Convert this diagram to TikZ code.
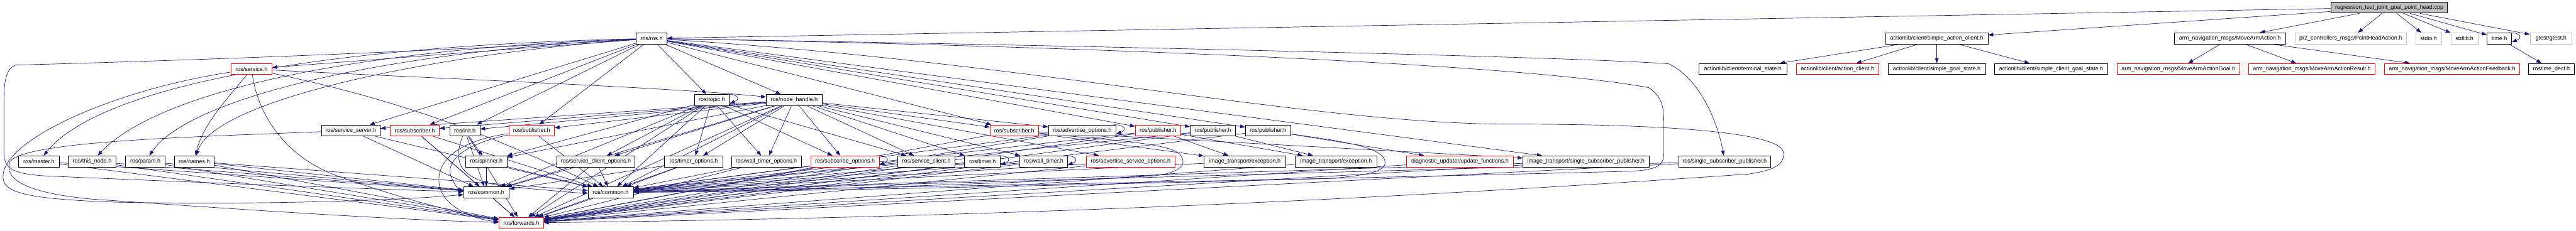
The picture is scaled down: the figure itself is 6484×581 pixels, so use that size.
\documentclass[tikz,border=0pt]{standalone}
\usepackage{fontspec}
\setmainfont{Liberation Sans}
\usetikzlibrary{arrows.meta}
\definecolor{edgec}{RGB}{25,25,112}
\definecolor{gray75}{RGB}{191,191,191}
\definecolor{dred}{RGB}{255,0,0}
\pgfdeclarelayer{bg}
\pgfsetlayers{bg,main}
\tikzset{
 nb/.style={draw=black, fill=white, line width=0.95pt, inner sep=0pt, minimum height=21pt, font=\fontsize{10.7}{12}\selectfont},
 nr/.style={nb, draw=dred},
 ng/.style={nb, draw=gray75},
 bw/.style={minimum width=#1*0.75pt},
 edg/.style={draw=edgec, line width=0.8pt, -{Triangle[length=9.5pt,width=7pt]}},
}
\newcommand\selfloop[1]{\draw[edg] ([xshift=-6pt]#1.north east) .. controls +(24pt,0pt) and +(20pt,8pt) .. ([yshift=4pt]#1.south east);}
\begin{document}
\begin{tikzpicture}[x=0.75pt,y=-0.75pt]
\useasboundingbox (0,0) rectangle (6484,581);
% row 0
\node[nb, fill=gray75, bw=293] (root) at (6014,19) {regression\_test\_joint\_goal\_point\_head.cpp};
% row 1
\node[nb,bw=78] (rosh) at (1640,97) {ros/ros.h};
\node[nb,bw=258] (sac) at (4875,97) {actionlib/client/simple\_action\_client.h};
\node[nb,bw=280] (maa) at (5613,97) {arm\_navigation\_msgs/MoveArmAction.h};
\node[ng,bw=280] (pha) at (5917,97) {pr2\_controllers\_msgs/PointHeadAction.h};
\node[ng,bw=65] (stdio) at (6113,97) {stdio.h};
\node[ng,bw=68] (stdlib) at (6203,97) {stdlib.h};
\node[nb,bw=62] (timeh) at (6291,97) {time.h};
\node[ng,bw=105] (gtest) at (6421,97) {gtest/gtest.h};
% row 2
\node[nr,bw=103] (service) at (633,174) {ros/service.h};
\node[nb,bw=221] (term) at (4387,174) {actionlib/client/terminal\_state.h};
\node[nr,bw=208] (acl) at (4625,174) {actionlib/client/action\_client.h};
\node[nb,bw=245] (sgs) at (4875,174) {actionlib/client/simple\_goal\_state.h};
\node[nb,bw=286] (scgs) at (5163,174) {actionlib/client/simple\_client\_goal\_state.h};
\node[nr,bw=308] (goal) at (5483,174) {arm\_navigation\_msgs/MoveArmActionGoal.h};
\node[nr,bw=318] (result) at (5819,174) {arm\_navigation\_msgs/MoveArmActionResult.h};
\node[nr,bw=341] (feedback) at (6172,174) {arm\_navigation\_msgs/MoveArmActionFeedback.h};
\node[nb,bw=116] (rtd) at (6422,174) {rostime\_decl.h};
% row 3
\node[nb,bw=88] (topic) at (1792,252) {ros/topic.h};
\node[nb,bw=140] (nh) at (1999,252) {ros/node\_handle.h};
% row 4
\node[nb,bw=148] (ssrv) at (883,329) {ros/service\_server.h};
\node[nr,bw=123] (sub1) at (1044,329) {ros/subscriber.h};
\node[nb,bw=76] (init) at (1170,329) {ros/init.h};
\node[nr,bw=115] (pub1) at (1338,329) {ros/publisher.h};
\node[nr,bw=122] (sub2) at (2553,329) {ros/subscriber.h};
\node[nb,bw=170] (advo) at (2724,329) {ros/advertise\_options.h};
\node[nr,bw=115] (pub2) at (2915,329) {ros/publisher.h};
\node[nb,bw=114] (pub3) at (3053,329) {ros/publisher.h};
\node[nb,bw=114] (pub4) at (3192,329) {ros/publisher.h};
% row 5
\node[nb,bw=103] (master) at (98,407) {ros/master.h};
\node[nb,bw=120] (thisnode) at (232,407) {ros/this\_node.h};
\node[nb,bw=100] (param) at (366,407) {ros/param.h};
\node[nb,bw=101] (names) at (489,407) {ros/names.h};
\node[nb,bw=104] (spinner) at (1224,407) {ros/spinner.h};
\node[nb,bw=197] (sco) at (1500,407) {ros/service\_client\_options.h};
\node[nb,bw=146] (tmo) at (1746,407) {ros/timer\_options.h};
\node[nb,bw=176] (wtmo) at (1929,407) {ros/wall\_timer\_options.h};
\node[nr,bw=172] (subo) at (2127,407) {ros/subscribe\_options.h};
\node[nb,bw=144] (scl) at (2332,407) {ros/service\_client.h};
\node[nb,bw=90] (timer) at (2473,407) {ros/timer.h};
\node[nb,bw=120] (wtimer) at (2627,407) {ros/wall\_timer.h};
\node[nr,bw=222] (aso) at (2846,407) {ros/advertise\_service\_options.h};
\node[nb,bw=205] (ite1) at (3133,407) {image\_transport/exception.h};
\node[nb,bw=205] (ite2) at (3363,407) {image\_transport/exception.h};
\node[nr,bw=269] (diag) at (3675,407) {diagnostic\_updater/update\_functions.h};
\node[nb,bw=318] (itssp) at (3992,407) {image\_transport/single\_subscriber\_publisher.h};
\node[nb,bw=232] (rssp) at (4341,407) {ros/single\_subscriber\_publisher.h};
% row 6, 7
\node[nb,bw=114] (com1) at (1224,485) {ros/common.h};
\node[nb,bw=114] (com2) at (1537,485) {ros/common.h};
\node[nr,bw=112] (fwd) at (1312,562) {ros/forwards.h};

\begin{pgfonlayer}{bg}
\foreach \a/\b in {root/rosh, root/sac, root/maa, root/pha, root/stdio, root/stdlib, root/timeh, root/gtest,
 timeh/rtd, sac/term, sac/acl, sac/sgs, sac/scgs, maa/goal, maa/result, maa/feedback,
 rosh/service, rosh/ssrv, rosh/sub1, rosh/init, rosh/pub1, rosh/topic, rosh/nh, rosh/sub2, rosh/pub2, rosh/pub3, rosh/pub4, rosh/itssp,
 topic/tmo, topic/wtmo, topic/subo, topic/sco, topic/spinner, topic/com1, topic/com2, topic/fwd, topic/scl,
 nh/tmo, nh/wtmo, nh/subo, nh/sco, nh/spinner, nh/ssrv, nh/sub1, nh/init, nh/pub1, nh/scl, nh/timer, nh/wtimer, nh/aso, nh/sub2, nh/advo, nh/com1, nh/com2, nh/fwd,
 master/com1, master/fwd, thisnode/com1, thisnode/fwd, param/com1, param/fwd, names/com1, names/fwd, names/com2,
 ssrv/com1, ssrv/com2, sub1/com1, sub1/fwd, sub1/com2, init/spinner, init/com1, init/fwd, pub1/com2,
 spinner/com1, spinner/com2, sco/com1, sco/com2, sco/fwd, tmo/com1, tmo/com2, tmo/fwd, wtmo/com2, wtmo/fwd,
 subo/com2, subo/fwd, scl/com2, scl/fwd, timer/com2, timer/fwd, wtimer/com2, wtimer/fwd, aso/com2, aso/fwd,
 sub2/fwd, advo/com2, advo/fwd, pub2/com2, pub2/fwd, pub3/com2, pub3/fwd, pub4/fwd,
 pub2/ite1, pub2/ite2, sub2/ite1, sub2/itssp, pub3/ite2, pub4/diag, ite1/com2, ite2/fwd, diag/fwd,
 itssp/com2, itssp/fwd, rssp/com2, rssp/fwd, com1/fwd, com2/fwd}
 {\draw[edg] (\a) -- (\b);}
% curved routes on the left
\draw[edg] (rosh) .. controls (800,116) and (250,218) .. (master);
\draw[edg] (rosh) .. controls (900,122) and (400,229) .. (thisnode);
\draw[edg] (rosh) .. controls (1000,128) and (480,240) .. (param);
\draw[edg] (rosh) .. controls (1100,135) and (540,250) .. (names);
\draw[edg] (rosh) .. controls (1000,135) and (350,156) .. (40,164) .. controls (15,171) and (10,208) .. (10,250) -- (10,387) .. controls (10,429) and (40,439) .. (120,444) .. controls (500,460) and (900,476) .. (com1);
\draw[edg] (service) .. controls (580,240) and (510,313) .. (names);
\draw[edg] (service) .. controls (1100,198) and (1700,221) .. (nh);
\draw[edg] (service) .. controls (1100,271) and (1350,397) .. (com2);
\draw[edg] (service) .. controls (650,292) and (720,397) .. (850,444) .. controls (1000,497) and (1150,539) .. (fwd);
\draw[edg] (service) .. controls (300,224) and (20,345) .. (8,439) .. controls (3,481) and (40,502) .. (300,510) .. controls (700,518) and (1050,502) .. (com1);
\draw[edg] (ssrv) .. controls (500,345) and (60,355) .. (25,408) .. controls (10,450) and (60,486) .. (230,502) .. controls (600,528) and (1000,555) .. (fwd);
\draw[edg] (pub1) .. controls (1180,360) and (1120,402) .. (1135,444) .. controls (1145,471) and (1160,481) .. (com1);
\draw[edg] (pub1) .. controls (1150,355) and (1100,408) .. (1105,460) .. controls (1110,523) and (1200,555) .. (fwd);
\draw[edg] (init) .. controls (1140,408) and (1150,460) .. (1300,473) .. controls (1400,481) and (1450,487) .. (com2);
% curved routes on the right
\draw[edg] (rosh) .. controls (2800,116) and (4000,145) .. (4200,161) .. controls (4280,198) and (4325,313) .. (rssp);
\draw[edg] (rosh) .. controls (2600,114) and (3800,156) .. (4150,221) .. controls (4185,245) and (4188,271) .. (4188,313) -- (4188,387) .. controls (4188,418) and (4170,429) .. (4100,432) .. controls (3000,460) and (2000,476) .. (com2);
\draw[edg] (rosh) .. controls (2600,156) and (3300,313) .. (3800,313) .. controls (4200,313) and (4485,334) .. (4489,385) .. controls (4492,413) and (4470,429) .. (4400,439) .. controls (3500,502) and (2500,549) .. (fwd);
\draw[edg] (sub2) .. controls (2800,355) and (2950,360) .. (2972,392) .. controls (2990,418) and (2965,437) .. (2900,444) .. controls (2500,465) and (1900,483) .. (com2);
\draw[edg] (pub4) .. controls (3350,353) and (3470,366) .. (3485,402) .. controls (3495,431) and (3450,441) .. (3350,450) .. controls (2600,470) and (1900,484) .. (com2);
% self loops
\selfloop{topic}
\selfloop{subo}
\selfloop{timer}
\selfloop{wtimer}
\selfloop{advo}
\selfloop{timeh}
\end{pgfonlayer}
\end{tikzpicture}
\end{document}
